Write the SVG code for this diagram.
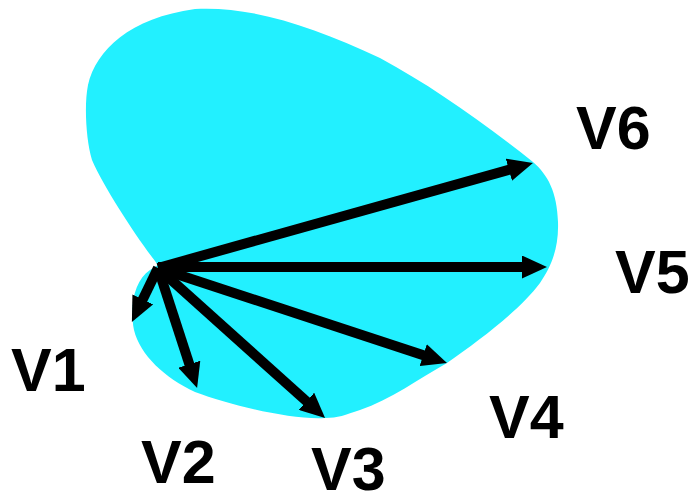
<svg xmlns="http://www.w3.org/2000/svg" width="693" height="496" viewBox="0 0 693 496">
  <style>
    .region { fill: #22F0FF; stroke: none; }
    .vec { stroke: #000; stroke-width: 10; fill: none; stroke-linecap: butt; marker-end: url(#head); }
    .lbl { font-family: "Liberation Sans", Arial, sans-serif; font-weight: bold; font-size: 61px; fill: #000; }
  </style>
  <defs>
    <marker id="head" markerUnits="userSpaceOnUse" markerWidth="25" markerHeight="23" refX="5" refY="11.5" orient="auto">
      <path d="M0,0 L25,11.5 L0,23 Z" fill="#000"/>
    </marker>
  </defs>

  <!-- cyan region -->
  <g id="region">
    <path class="region" d="M158,265 C140,242 105,190 92,160 C86,140 84,105 88,85 C96,50 130,18 195,9 C250,6 310,25 380,58 C430,85 480,120 533,162 C548,175 557,192 558,222 C559,250 550,268 540,283 C520,310 480,340 447,363 C420,378 390,400 360,410 C345,415 338,418 325,418 C290,420 230,405 195,392 C165,378 140,355 134,330 C129,305 135,280 150,270 Z"/>
  </g>

  <!-- vectors from the common origin -->
  <g id="connectors">
    <line class="vec" x1="158" y1="268" x2="513.7" y2="168.4"/>
    <line class="vec" x1="158" y1="267" x2="527" y2="267"/>
    <line class="vec" x1="158" y1="268" x2="428" y2="356.7"/>
    <line class="vec" x1="158" y1="268" x2="310.2" y2="404.6"/>
    <line class="vec" x1="158" y1="268" x2="190.9" y2="369"/>
    <line class="vec" x1="158" y1="268" x2="140.6" y2="303.9"/>
  </g>

  <g id="V1"><text class="lbl" x="11" y="391">V1</text></g>
  <g id="V2"><text class="lbl" x="141" y="483">V2</text></g>
  <g id="V3"><text class="lbl" x="311" y="490">V3</text></g>
  <g id="V4"><text class="lbl" x="489" y="438">V4</text></g>
  <g id="V5"><text class="lbl" x="615" y="293">V5</text></g>
  <g id="V6"><text class="lbl" x="576" y="149">V6</text></g>
</svg>
